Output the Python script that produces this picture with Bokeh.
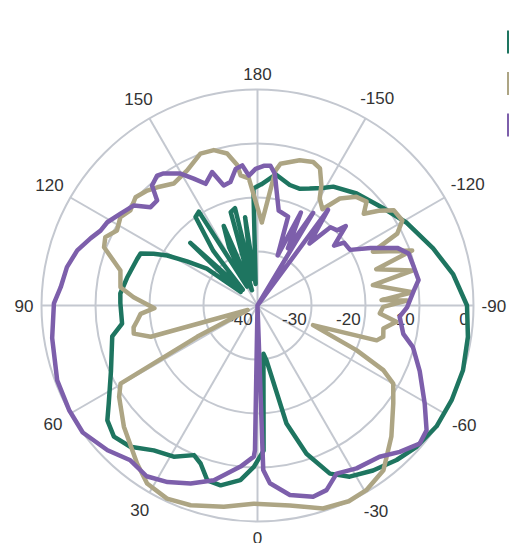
import numpy as np
from bokeh.plotting import figure
from bokeh.models import Range1d
from bokeh.embed import file_html
from bokeh.resources import INLINE
from bokeh.core.properties import value

# ---------------- axes ----------------
r_min, r_max = -40, 0
r_ticks = [-40, -30, -20, -10, 0]
theta_ticks = [180, 150, 120, 90, 60, 30, 0, -30, -60, -90, -120, -150]

# ---------------- series (angle in degrees, value in dB) ----------------
teal_theta = [-178, -172, -165, -160, -156, -151, -147.5, -138.5, -128, -119, -108, -99, -90, -81.5,
              -72.5, -64, -56, -48.4, -42, -35, -28.3, -23.3, -18.3, -13.8, -9.3, -7, -2.4, 1.3,
              5.6, 11.6, 16, 19.8, 23, 29, 35.6, 42, 47.6, 52.6, 56.6, 66, 78, 82.4, 91, 95, 102,
              111, 114, 116.5, 119, 122, 126, 129, 133, 137, 141, 145, 148, 151, 154, 157, 160,
              164, 167, 169, 172, 175, 178]
teal_r = [-17.5, -15.5, -16.9, -17.0, -16.3, -15.1, -13.9, -12.3, -10.6, -8.4, -5.8, -3.3, -1.2, -0.6,
          -0.1, 0, 0, -0.6, -1.5, -2.7, -4.0, -6.1, -11.1, -17.5, -29.7, -31, -13.1, -10.1,
          -7.5, -6.0, -6.3, -8.9, -9.9, -8.0, -7.0, -4.8, -4.0, -5.0, -7.0, -10.3, -12.5, -14.7, -14.6, -14.5, -15.3,
          -16.1, -16.3, -18.5, -20.9, -24.6, -28.4, -36, -23, -36, -27, -20, -19.5, -36, -28, -24, -37,
          -22, -21.5, -35, -23.5, -36, -18.3]

tan_theta = [-177, -172.4, -170.8, -163.8, -158.8, -155.5, -152, -149.8, -146, -142.4, -137.7, -133.6,
             -130.8, -128, -124.9, -120.4, -117.2, -115, -109.6, -107, -102.7, -100, -94.9, -92.5,
             -91.9, -89.4, -86.3, -83.3, -79.6, -76, -73.7, -70.5, -67.5, -65.7, -62.8, -60.1, -54.2,
             -45.6, -37.4, -30.5, -25, -17.9, -9.2, 1.1, 9.5, 18.5, 25.1, 31.8, 37.3, 47.8, 56.6,
             60.3, 62.6, 65.5, 73.7, 77.2, 80, 83, 85.9, 88.5, 93.8, 97.6, 104.3, 110.8, 114.2,
             118.1, 122.8, 126.8, 131.6, 136.2, 139.7, 145.5, 152.5, 159.4, 164.3, 168.7, 171.8,
             172.6, 176.1]
tan_r = [-24.6, -14.8, -13.4, -12.0, -11.5, -12.1, -14.8, -17.1, -18.5, -15, -12.8, -12.1,
         -14.0, -11.5, -9.2, -8.9, -10.9, -16.4, -9.6, -17, -10.6, -18.3, -11.2, -17,
         -12.3, -16.7, -17.3, -14.1, -16.3, -16.0, -17.0, -29.1, -24.8, -19.9, -13.8, -11.0, -9.0,
         -5.3, -1.6, -0.3, 0, -0.5, -2.5, -3.3, -2.2, -1.0, -0.5, -1.2, -3.2, -6.6, -9.3,
         -10.8, -27.4, -38, -19.4, -16.5, -16.7, -17.6, -18.3, -20.9, -17.0, -14.4, -13.8, -9.6, -9.1,
         -10.5, -9.8, -10.6, -9.8, -10.5, -11.3, -12.6, -11.8, -9.95, -10.1, -11.3, -13.7,
         -15.7, -16.4]

purple_theta = [-177.4, -174.7, -172.5, -170.6, -167.4, -161, -158, -155, -152, -149, -146, -143.6,
                -140, -137, -133.3, -132, -128, -126, -121, -117, -112.4, -109, -104, -99, -95.5,
                -89.3, -85.5, -79, -75, -68, -59.6, -53.6, -49.6, -44.2, -38.9, -31.3, -25.2, -20.5,
                -16.2, -9.7, -4, -2, 0, 1, 1.4, 6, 14, 20.6, 27, 33, 39.4, 46, 54, 61, 69.5, 81,
                90.6, 95.3, 101.4, 107, 112, 115.5, 119, 124, 129, 132.6, 136.3, 138.7, 142.3,
                144.6, 149.7, 153.3, 156.9, 161.2, 164.3, 167.6, 170.9, 173.8, 176.2, 179.2]
purple_r = [-14.1, -14.0, -15.4, -18.4, -22.0, -22.6, -30, -21, -28, -20, -40, -18,
            -25, -20.2, -19.7, -18, -22, -20.2, -20, -16.5, -12.0, -10.4, -10.2, -9.8, -10.9,
            -12.3, -13.6, -12.5, -10.2, -7.6, -4.1, -1.1, -0.55, -2.2, -4.0, -4.7, -5.6, -3.5,
            -3.1, -4.4, -7.0, -9.5, -40, -13.2, -12.0, -10.0, -6.65, -4.8, -3.3, -2.3, -2.9, -1.4, 0, -0.1, -0.4, -1.5,
            -2.3, -3.4, -4.0, -5.1, -6.7, -7.8, -8.2, -9.5, -10.55, -13.1, -13.1, -10.4, -9.6,
            -10.0, -11.7, -13.7, -15.5, -13.9, -16.9, -16.6, -14.4, -13.9, -15.9, -14.7]

series = [
    ("teal", teal_theta, teal_r, "#1e7560"),
    ("tan", tan_theta, tan_r, "#ada584"),
    ("purple", purple_theta, purple_r, "#7d5fab"),
]

# ---------------- layout ----------------
W, H = 509, 543
PX = 5.4            # pixels per dB
CX, CY = 257, 305   # centre inside the figure (px)
R = r_max - r_min   # outer radius in data units

GRID = "#c4c8d0"
TXT = "#333333"
FONT = value("Liberation Sans")


def polar(theta_deg, r):
    t = np.radians(np.asarray(theta_deg, dtype=float))
    rho = np.clip(np.asarray(r, dtype=float), r_min, r_max) - r_min
    return -rho * np.sin(t), -rho * np.cos(t)


p = figure(width=W, height=H, output_backend="svg", toolbar_location=None,
           x_range=Range1d(-CX / PX, (W - CX) / PX), y_range=Range1d(-(H - CY) / PX, CY / PX),
           min_border=0, outline_line_color=None)
p.axis.visible = False
p.grid.visible = False
p.background_fill_color = "white"
p.border_fill_color = "white"

# radial grid circles
for t in r_ticks[1:]:
    p.circle(x=0, y=0, radius=t - r_min, fill_color=None, line_color=GRID, line_width=2)

# angular spokes
for a in theta_ticks:
    xs, ys = polar([a, a], [r_min, r_max])
    p.line(xs, ys, line_color=GRID, line_width=2)

# radial tick labels (placed along the -90 direction, just below)
for t in r_ticks:
    rho = t - r_min
    p.text(x=[rho - 0.9], y=[-13 / PX], text=[str(t)], text_font=FONT, text_font_size="17px",
           text_color=TXT, text_align="right", text_baseline="middle")

# angular tick labels
for a in theta_ticks:
    lab = str(a)
    half_w = 0.5 * (9.45 * sum(c.isdigit() for c in lab) + 5.7 * lab.count("-"))
    half_h = 8.0
    tr = np.radians(a)
    ext = abs(np.sin(tr)) * half_w + abs(np.cos(tr)) * half_h
    rr = (R * PX + 8 + ext) / PX
    p.text(x=[-rr * np.sin(tr)], y=[-rr * np.cos(tr)], text=[lab], text_font=FONT,
           text_font_size="17px", text_color=TXT, text_align="center", text_baseline="middle")

# traces
for name, th, rv, col in series:
    xs, ys = polar(list(th) + [th[0]], list(rv) + [rv[0]])
    p.line(xs, ys, line_color=col, line_width=4.5, line_join="round", line_cap="round")

# legend swatches (cut off at the right edge in the original)
for i, (name, th, rv, col) in enumerate(series):
    y_top = (CY - 30 - i * 41.5) / PX
    y_bot = y_top - 23 / PX
    xl = (W - 1.5 - CX) / PX
    p.line([xl, xl], [y_top, y_bot], line_color=col, line_width=2)

open("out.html", "w").write(file_html(p, INLINE))
